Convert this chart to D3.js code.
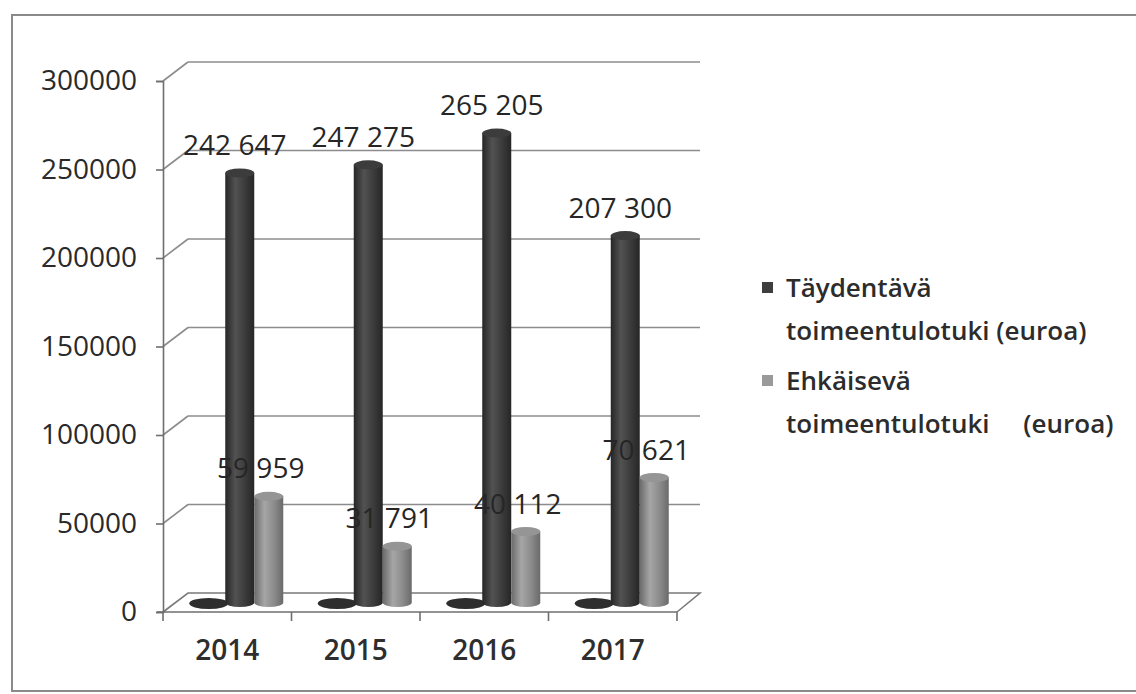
<!DOCTYPE html>
<html>
<head>
  <meta charset="UTF-8">
  <title>Toimeentulotuki 2014-2017</title>
  <script src="https://cdnjs.cloudflare.com/ajax/libs/d3/7.8.5/d3.min.js"></script>
  <style>
    body { margin: 0; background: #fff; }
    svg { font-family: "Open Sans", "Noto Sans", sans-serif; }
  </style>
</head>
<body>
<div class="chart"></div>
<script>
  // data
  var years = ['2014', '2015', '2016', '2017'];
  var taydentava = [242647, 247275, 265205, 207300];
  var ehkaiseva = [59959, 31791, 40112, 70621];
  var hidden = [0, 0, 0, 0];           // the flat dark blob left of each pair
  var yTicks = [0, 50000, 100000, 150000, 200000, 250000, 300000];
  var legendLabels = [
    ['Täydentävä', 'toimeentulotuki (euroa)'],
    ['Ehkäisevä', 'toimeentulotuki\u00a0\u00a0\u00a0\u00a0\u00a0(euroa)']
  ];

  var W = 1136, H = 694;
  var depth = { dx: 25, dy: -19 };      // offset front -> back wall

  var svg = d3.select('.chart').append('svg')
    .attr('width', W).attr('height', H);

  var defs = svg.append('defs');
  function cylGrad(id, edge, mid, light) {
    var g = defs.append('linearGradient').attr('id', id)
      .attr('x1', 0).attr('x2', 1).attr('y1', 0).attr('y2', 0);
    g.append('stop').attr('offset', '0%').attr('stop-color', edge);
    g.append('stop').attr('offset', '35%').attr('stop-color', light);
    g.append('stop').attr('offset', '70%').attr('stop-color', mid);
    g.append('stop').attr('offset', '100%').attr('stop-color', edge);
  }
  cylGrad('gDark', '#262626', '#3a3a3a', '#525252');
  cylGrad('gLight', '#6a6a6a', '#8a8a8a', '#a6a6a6');

  // outer frame of the scanned chart
  svg.append('rect')
    .attr('x', 12).attr('y', 15).attr('width', W).attr('height', 676)
    .attr('fill', 'none').attr('stroke', '#8a8a8a').attr('stroke-width', 2);

  var x = d3.scaleBand().domain(years).range([163, 677]);
  var y = d3.scaleLinear().domain([0, 300000]).range([612, 81]);
  var series = d3.scaleBand().domain(['hidden', 'tay', 'ehk'])
    .range([-43.5, 43.5]);

  var grid = svg.append('g').attr('stroke', '#8c8c8c').attr('stroke-width', 1.6).attr('fill', 'none');

  // back wall gridlines + side wall diagonals
  yTicks.forEach(function (t) {
    if (t === 0) return;
    grid.append('line')
      .attr('x1', 163 + depth.dx).attr('x2', 700)
      .attr('y1', y(t) + depth.dy).attr('y2', y(t) + depth.dy);
    grid.append('line')
      .attr('x1', 163).attr('x2', 163 + depth.dx)
      .attr('y1', y(t)).attr('y2', y(t) + depth.dy);
  });

  // floor
  grid.append('path')
    .attr('d', d3.line()([
      [163, y(0)], [163 + depth.dx, y(0) + depth.dy],
      [700, y(0) + depth.dy], [677, y(0)]
    ]))
    .attr('stroke', '#7a7a7a');

  // y axis on the front edge
  var yAxis = svg.append('g')
    .attr('transform', 'translate(163,0)')
    .call(d3.axisLeft(y).tickValues(yTicks).tickFormat(d3.format('d'))
      .tickSize(7).tickPadding(19));
  yAxis.select('.domain').attr('stroke', '#6e6e6e').attr('stroke-width', 1.6);
  yAxis.selectAll('.tick line').attr('stroke', '#6e6e6e').attr('stroke-width', 1.6);
  yAxis.selectAll('text')
    .attr('font-size', 28).attr('font-weight', 500).attr('fill', '#2a2a2a')
    .attr('font-family', '"Open Sans", sans-serif');

  // x axis: front floor edge, ticks at category borders
  var xAxis = svg.append('g')
    .attr('transform', 'translate(0,' + y(0) + ')')
    .call(d3.axisBottom(x).tickSize(0).tickPadding(28));
  xAxis.select('.domain').attr('stroke', '#6e6e6e').attr('stroke-width', 1.6)
    .attr('d', 'M157,0H677');
  xAxis.selectAll('text')
    .attr('font-size', 28).attr('font-weight', 600).attr('fill', '#2e2e2e')
    .attr('font-family', '"Open Sans", sans-serif');
  var borders = years.map(function (c) { return x(c); }).concat([x.range()[1]]);
  xAxis.selectAll('.border').data(borders).enter().append('line')
    .attr('class', 'border')
    .attr('x1', function (d) { return d; }).attr('x2', function (d) { return d; })
    .attr('y1', 0).attr('y2', 9)
    .attr('stroke', '#6e6e6e').attr('stroke-width', 1.6);

  // cylinders sit half way into the depth
  var mid = { dx: depth.dx / 2, dy: depth.dy / 2 };
  var rx = series.bandwidth() / 2, ry = 4.5;

  function cylinder(g, cx, v, fill, topFill) {
    var yb = y(0) + mid.dy, yt = y(v) + mid.dy;
    var x0 = cx - rx, x1 = cx + rx;
    g.append('path')
      .attr('d', 'M' + x0 + ',' + yt + 'L' + x0 + ',' + yb +
        'A' + rx + ',' + ry + ' 0 0 0 ' + x1 + ',' + yb +
        'L' + x1 + ',' + yt + 'Z')
      .attr('fill', fill);
    g.append('ellipse')
      .attr('cx', cx).attr('cy', yt).attr('rx', rx).attr('ry', ry)
      .attr('fill', topFill);
  }

  var bars = svg.append('g');
  years.forEach(function (c, i) {
    var base = x(c) + x.bandwidth() / 2 + mid.dx;
    // flat blob
    var hx = base + series('hidden') + rx;
    bars.append('ellipse')
      .attr('cx', hx - 2).attr('cy', y(hidden[i]) + mid.dy + 1)
      .attr('rx', rx + 5).attr('ry', 5.5).attr('fill', '#2e2e2e');
    cylinder(bars, base + series('tay') + rx, taydentava[i], 'url(#gDark)', '#3c3c3c');
    cylinder(bars, base + series('ehk') + rx, ehkaiseva[i], 'url(#gLight)', '#959595');
  });

  // value labels
  var fmt = function (v) { return d3.format(',')(v).replace(/,/g, ' '); };
  var labels = svg.append('g')
    .attr('font-size', 28).attr('fill', '#262626').attr('text-anchor', 'middle');
  years.forEach(function (c, i) {
    var base = x(c) + x.bandwidth() / 2 + mid.dx;
    labels.append('text')
      .attr('x', base + series('tay') + rx - 5)
      .attr('y', y(taydentava[i]) + mid.dy - 18)
      .text(fmt(taydentava[i]));
    labels.append('text')
      .attr('x', base + series('ehk') + rx - 8)
      .attr('y', y(ehkaiseva[i]) + mid.dy - 18)
      .text(fmt(ehkaiseva[i]));
  });

  // legend
  var legendColors = ['#3e3e3e', '#9a9a9a'];
  var legend = svg.append('g').attr('transform', 'translate(762,282)');
  legendLabels.forEach(function (lines, i) {
    var g = legend.append('g').attr('transform', 'translate(0,' + (i * 93) + ')');
    g.append('rect').attr('width', 11).attr('height', 11).attr('fill', legendColors[i]);
    var t = g.append('text')
      .attr('font-size', 26).attr('font-weight', 600).attr('fill', '#2c2c2c');
    t.append('tspan').attr('x', 24).attr('y', 15).text(lines[0]);
    t.append('tspan').attr('x', 24).attr('y', 58).text(lines[1]);
  });
</script>
</body>
</html>
